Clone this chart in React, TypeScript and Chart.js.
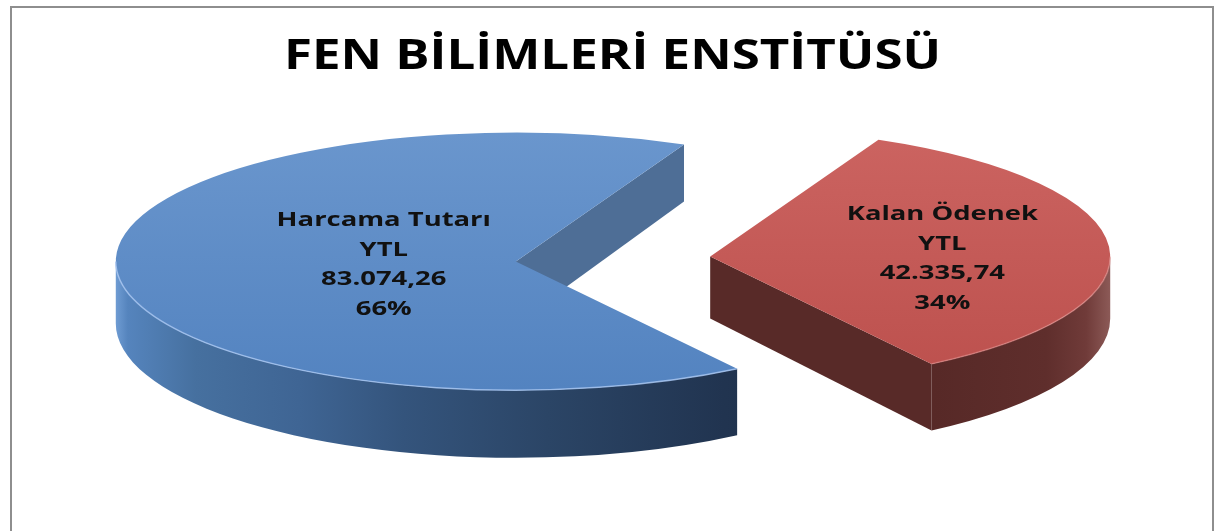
import React, { useEffect, useRef } from 'react';
import { Chart, registerables } from 'chart.js';

Chart.register(...registerables);

// ---- data ----
const TITLE = 'FEN BİLİMLERİ ENSTİTÜSÜ';
const CATEGORIES = ['Harcama Tutarı', 'Kalan Ödenek'];
const CURRENCY = 'YTL';
const VALUES = [83074.26, 42335.74];

// ---- styling ----
const TOP_COLORS = [
  ['#6a96cd', '#5383c0'],
  ['#cc6461', '#bc504d'],
];
const WALL_STOPS: [number, string][][] = [
  [[0, '#6f9cd3'], [0.015, '#5584bd'], [0.1, '#46709f'], [0.23, '#3f6594'], [0.36, '#34547c'], [0.54, '#2b4566'], [0.76, '#213450'], [1, '#1c2c44']],
  [[0, '#552826'], [0.78, '#572927'], [0.92, '#5f2e2c'], [0.97, '#703b39'], [1, '#8c5a57']],
];
const CUT_COLORS = ['#4e6e96', '#582a28'];
const RIM_COLORS = ['rgba(165,195,238,0.85)', 'rgba(225,140,138,0.6)'];
const EXPLODE = [97, 98];
const LABEL_POS = [0.331, 0.582];
const LABEL_DY = [0, 8];
const RADIUS = 400;
const TILT = 0.322;
const DEPTH = 62;
const PERSPECTIVE = 0.014;
const ROTATION = 146.4;
const LABEL_FONT = 'bold 20px "Open Sans"';
const LABEL_STRETCH = 1.37;
const LINE_H = 29.5;
const TITLE_FONT = 'bold 41px "Open Sans"';
const TITLE_STRETCH = 1.245;

function formatTR(v: number) {
  const [i, d] = v.toFixed(2).split('.');
  return i.replace(/\B(?=(\d{3})+(?!\d))/g, '.') + ',' + d;
}

const pie3d = {
  id: 'pie3d',
  beforeDatasetsDraw(chart: any) {
    const ctx = chart.ctx as CanvasRenderingContext2D;
    const arcs = chart.getDatasetMeta(0).data as any[];
    const total = VALUES.reduce((a, b) => a + b, 0);
    const geo: any[] = [];
    arcs.forEach((arc: any, i: number) => {
      const x = arc.x, y = arc.y, s = arc.startAngle, e = arc.endAngle, R = arc.outerRadius;
      const mid = (s + e) / 2;
      const ex = Math.cos(mid) * EXPLODE[i];
      const ey = Math.sin(mid) * EXPLODE[i] * TILT;
      geo.push({ x, y, R, mid, ex, ey });
      const withT = (layer: number, fn: () => void) => {
        ctx.save();
        ctx.translate(ex, y + ey + layer * DEPTH);
        ctx.scale(1, TILT + layer * PERSPECTIVE);
        ctx.translate(0, -y);
        fn();
        ctx.restore();
      };
      const intervals: number[][] = [];
      const TAU = Math.PI * 2;
      for (let n = Math.floor(s / TAU) - 1; n <= Math.ceil(e / TAU) + 1; n++) {
        const a = Math.max(s, n * TAU), b = Math.min(e, n * TAU + Math.PI);
        if (b > a) intervals.push([a, b]);
      }
      const g = ctx.createLinearGradient(x + ex - R, 0, x + ex + R, 0);
      WALL_STOPS[i].forEach(([o, c]) => g.addColorStop(o, c));
      intervals.forEach(([a, b]) => {
        ctx.beginPath();
        withT(0, () => ctx.arc(x, y, R, a, b));
        withT(1, () => ctx.arc(x, y, R, b, a, true));
        ctx.closePath();
        ctx.fillStyle = g;
        ctx.fill();
      });
      [[s, s - Math.PI / 2], [e, e + Math.PI / 2]].forEach(([ang, nrm]) => {
        if (Math.sin(nrm) <= 0) return;
        const px = x + Math.cos(ang) * R, py = y + Math.sin(ang) * R;
        ctx.beginPath();
        withT(0, () => { ctx.moveTo(x, y); ctx.lineTo(px, py); });
        withT(1, () => { ctx.lineTo(px, py); ctx.lineTo(x, y); });
        ctx.closePath();
        ctx.fillStyle = CUT_COLORS[i];
        ctx.fill();
      });
      withT(0, () => arc.draw(ctx));
      intervals.forEach(([a, b]) => {
        ctx.beginPath();
        withT(0, () => ctx.arc(x, y, R, a, b));
        ctx.strokeStyle = RIM_COLORS[i];
        ctx.lineWidth = 1.5;
        ctx.stroke();
      });
    });

    ctx.save();
    ctx.fillStyle = '#111111';
    ctx.font = LABEL_FONT;
    ctx.textAlign = 'center';
    ctx.textBaseline = 'middle';
    geo.forEach((g: any, i: number) => {
      const r = g.R * LABEL_POS[i];
      const X = g.x + Math.cos(g.mid) * r + g.ex;
      const Y = g.y + Math.sin(g.mid) * r * TILT + g.ey + LABEL_DY[i];
      const lines = [CATEGORIES[i], CURRENCY, formatTR(VALUES[i]), Math.round((VALUES[i] / total) * 100) + '%'];
      lines.forEach((t, j) => {
        ctx.save();
        ctx.translate(X, Y + (j - 1.5) * LINE_H);
        ctx.scale(LABEL_STRETCH, 1);
        ctx.fillText(t, 0, 0);
        ctx.restore();
      });
    });
    ctx.restore();
    return false;
  },
  afterDraw(chart: any) {
    const ctx = chart.ctx as CanvasRenderingContext2D;
    ctx.save();
    ctx.fillStyle = '#000000';
    ctx.font = TITLE_FONT;
    ctx.textAlign = 'center';
    ctx.textBaseline = 'alphabetic';
    ctx.translate(612.5, 69);
    ctx.scale(TITLE_STRETCH, 1);
    ctx.fillText(TITLE, 0, 0);
    ctx.restore();
  },
};

export default function App() {
  const ref = useRef<HTMLCanvasElement | null>(null);
  useEffect(() => {
    if (!ref.current) return;
    const chart = new Chart(ref.current, {
      type: 'pie',
      data: {
        labels: CATEGORIES,
        datasets: [
          {
            data: VALUES,
            borderWidth: 0,
            radius: RADIUS,
            backgroundColor: (c: any) => {
              const i = c.dataIndex ?? 0;
              const area = c.chart.chartArea;
              if (!area) return TOP_COLORS[i][1];
              const cy = (area.top + area.bottom) / 2;
              const g = c.chart.ctx.createLinearGradient(0, cy - RADIUS, 0, cy + RADIUS);
              g.addColorStop(0, TOP_COLORS[i][0]);
              g.addColorStop(1, TOP_COLORS[i][1]);
              return g;
            },
          } as any,
        ],
      },
      options: {
        responsive: false,
        animation: false,
        events: [],
        rotation: ROTATION,
        layout: { padding: { top: 98, bottom: 111, left: 6, right: 0 } },
        plugins: {
          legend: { display: false },
          tooltip: { enabled: false },
          title: { display: false },
        },
      } as any,
      plugins: [pie3d as any],
    });
    return () => chart.destroy();
  }, []);
  return (
    <div style={{ position: 'fixed', left: 0, top: 0, width: 1219, height: 531, background: '#ffffff', overflow: 'hidden' }}>
      <div style={{ position: 'absolute', left: 10, top: 6, width: 1200, height: 600, border: '2px solid #8e8e8e' }} />
      <canvas ref={ref} width={1219} height={531} style={{ position: 'absolute', left: 0, top: 0 }} />
    </div>
  );
}
